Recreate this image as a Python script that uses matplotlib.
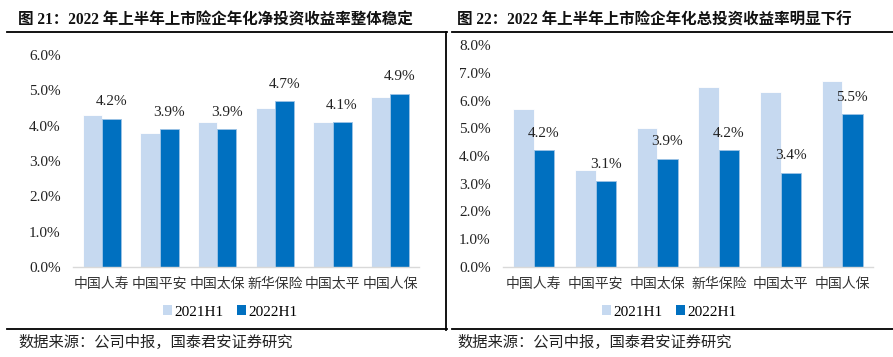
import matplotlib
matplotlib.use("Agg")
import matplotlib.pyplot as plt
from matplotlib.lines import Line2D
from matplotlib.patches import Patch
import numpy as np

plt.rcParams['font.family'] = ['Liberation Serif', 'Noto Sans CJK SC', 'DejaVu Sans']

categories = ["中国人寿", "中国平安", "中国太保", "新华保险", "中国太平", "中国人保"]
series_names = ["2021H1", "2022H1"]

net_2021 = [4.3, 3.8, 4.1, 4.5, 4.1, 4.8]
net_2022 = [4.2, 3.9, 3.9, 4.7, 4.1, 4.9]

total_2021 = [5.7, 3.5, 5.0, 6.5, 6.3, 6.7]
total_2022 = [4.2, 3.1, 3.9, 4.2, 3.4, 5.5]

title_left = "图 21：2022 年上半年上市险企年化净投资收益率整体稳定"
title_right = "图 22：2022 年上半年上市险企年化总投资收益率明显下行"
source_text = "数据来源：公司中报，国泰君安证券研究"

c_light = "#C6D9F0"
c_dark = "#0070C0"

W, H = 893, 357
fig = plt.figure(figsize=(W / 100, H / 100), dpi=100)


def fx(px):
    return px / W


def fy(py):
    return 1 - py / H


def draw_panel(ax, v1, v2, ymax, legend_anchor):
    x = np.arange(len(categories))
    bw = 0.33
    ax.bar(x - bw / 2, v1, bw, color=c_light, edgecolor="white", linewidth=0.6, zorder=2)
    ax.bar(x + bw / 2, v2, bw, color=c_dark, edgecolor="#9DC3E6", linewidth=0.6, zorder=2)
    for xi, v in zip(x, v2):
        ax.annotate(f"{v:.1f}%", (xi + bw / 2, v), xytext=(0, 7.5), textcoords="offset points",
                    ha="center", va="bottom", fontsize=11, family="Liberation Serif",
                    color="#222222", zorder=5)
    ax.set_xlim(-0.5, len(categories) - 0.5)
    ax.set_ylim(0, ymax)
    ax.set_yticks(np.arange(0, ymax + 0.001, 1.0))
    ax.set_yticklabels([f"{t:.1f}%" for t in np.arange(0, ymax + 0.001, 1.0)],
                       fontsize=11, family="Liberation Serif", color="#222222")
    ax.set_xticks(x)
    ax.set_xticklabels(categories, fontsize=10, family="Noto Sans CJK SC", color="#333333")
    ax.tick_params(axis="y", length=0, pad=9)
    ax.tick_params(axis="x", length=0, pad=7)
    for s in ["top", "right", "left"]:
        ax.spines[s].set_visible(False)
    ax.spines["bottom"].set_color("#D9D9D9")
    ax.spines["bottom"].set_linewidth(1.0)
    handles = [Patch(facecolor=c_light, edgecolor="none"), Patch(facecolor=c_dark, edgecolor="none")]
    ax.legend(handles, series_names, loc="center", bbox_to_anchor=legend_anchor, ncol=2,
              frameon=False, prop={"family": "Liberation Serif", "size": 11},
              handlelength=0.6, handleheight=0.6, handletextpad=0.15, columnspacing=0.9)


ax1 = fig.add_axes([fx(73), fy(267), fx(419 - 73), (267 - 55) / H])
draw_panel(ax1, net_2021, net_2022, 6, (0.454, -0.212))

ax2 = fig.add_axes([fx(503), fy(267), fx(873 - 503), (267 - 45) / H])
draw_panel(ax2, total_2021, total_2022, 8, (0.449, -0.203))

# titles
fig.text(fx(18), fy(20), title_left, ha="left", va="center", fontsize=11.2, fontweight="bold",
         color="#111111")
fig.text(fx(457), fy(20), title_right, ha="left", va="center", fontsize=11.2, fontweight="bold",
         color="#111111")

# sources
fig.text(fx(18), fy(342), source_text, ha="left", va="center", fontsize=11, color="#222222",
         family="Noto Sans CJK SC")
fig.text(fx(457), fy(342), source_text, ha="left", va="center", fontsize=11, color="#222222",
         family="Noto Sans CJK SC")

# frame lines
lw = 1.3
fig.add_artist(Line2D([fx(7), fx(447)], [fy(32), fy(32)], color="black", lw=lw))
fig.add_artist(Line2D([fx(452), fx(893)], [fy(32), fy(32)], color="black", lw=lw))
fig.add_artist(Line2D([fx(7), fx(447)], [fy(329), fy(329)], color="black", lw=lw))
fig.add_artist(Line2D([fx(452), fx(893)], [fy(329), fy(329)], color="black", lw=lw))
fig.add_artist(Line2D([fx(446), fx(446)], [fy(32), fy(330)], color="black", lw=lw))

fig.savefig("out.png", dpi=100)
